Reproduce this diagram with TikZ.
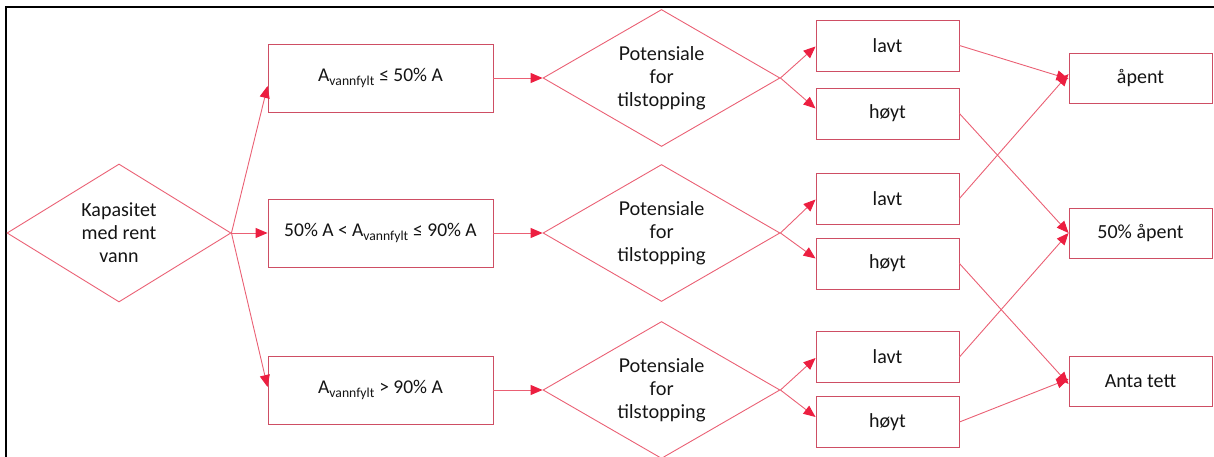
\documentclass[tikz,border=0pt]{standalone}
\usepackage{fontspec}
\setmainfont{Carlito}
\newfontfamily\potfont{Lato}
\usetikzlibrary{shapes.geometric,arrows.meta}
\definecolor{lin}{RGB}{234,96,116}
\definecolor{brd}{RGB}{206,78,100}
\definecolor{tipc}{RGB}{236,30,64}
\definecolor{txt}{RGB}{20,20,20}
\begin{document}
\begin{tikzpicture}[x=1pt,y=-1pt,
  box/.style={draw=brd,line width=0.9pt,minimum width=225pt,minimum height=68pt,inner sep=0pt,text=txt,font=\fontsize{19.5}{23}\selectfont},
  sbox/.style={draw=brd,line width=0.9pt,minimum width=143pt,minimum height=51pt,inner sep=0pt,text=txt,font=\fontsize{20}{24}\selectfont},
  dia/.style={diamond,aspect=1.73,draw=lin,line width=0.9pt,inner sep=0pt,minimum width=237pt,minimum height=137pt,text=txt,align=center,font=\potfont\fontsize{19}{23}\selectfont},
  conn/.style={draw=lin,line width=0.9pt,-{Triangle[length=12pt,width=10pt,color=tipc,fill=tipc]}},
  plain/.style={draw=lin,line width=0.9pt}]
\useasboundingbox (0,0) rectangle (1214,457);
\begin{scope}
\clip (0,0) rectangle (1214,457);
% frame
\draw[line width=2pt,black] (6,458) -- (6,7) -- (1214,7);
% start diamond
\node[dia,aspect=1.62,minimum width=224pt,minimum height=138pt,font=\fontsize{20}{23}\selectfont] (m) at (119,233) {Kapasitet\\med rent\\vann};
% first column boxes
\node[box] (b1) at (380.5,78) {A\textsubscript{vannfylt} ≤ 50\% A};
\node[box] (b2) at (380.5,233) {50\% A < A\textsubscript{vannfylt} ≤ 90\% A};
\node[box] (b3) at (380.5,390) {A\textsubscript{vannfylt} > 90\% A};
% decision diamonds
\node[dia] (d1) at (661.5,78) {Potensiale\\for\\tilstopping};
\node[dia] (d2) at (661.5,233) {Potensiale\\for\\tilstopping};
\node[dia] (d3) at (661.5,390) {Potensiale\\for\\tilstopping};
% lavt / hoyt
\node[sbox] (l1) at (887.5,45.5) {lavt};
\node[sbox] (h1) at (887.5,113.5) {høyt};
\node[sbox] (l2) at (887.5,198.5) {lavt};
\node[sbox] (h2) at (887.5,263.5) {høyt};
\node[sbox] (l3) at (887.5,357) {lavt};
\node[sbox] (h3) at (887.5,422) {høyt};
% outcomes
\node[sbox,minimum height=50pt] (o1) at (1140.5,78) {åpent};
\node[sbox,minimum height=50pt] (o2) at (1140.5,233) {50\% åpent};
\node[sbox,minimum height=50pt] (o3) at (1140.5,381) {Anta tett};
% connectors
\draw[conn] (m.east) -- ([yshift=-8pt]b1.west);
\draw[conn] (m.east) -- (b2.west);
\draw[conn] (m.east) -- ([yshift=3pt]b3.west);
\draw[conn] (b1.east) -- (d1.west);
\draw[conn] (b2.east) -- (d2.west);
\draw[conn] (b3.east) -- (d3.west);
\draw[conn] (d1.east) -- ([yshift=-1pt]l1.west);
\draw[conn] (d1.east) -- ([yshift=5pt]h1.west);
\draw[conn] (d2.east) -- ([yshift=-1pt]l2.west);
\draw[conn] (d2.east) -- ([yshift=5pt]h2.west);
\draw[conn] (d3.east) -- ([yshift=-1pt]l3.west);
\draw[conn] (d3.east) -- ([yshift=5pt]h3.west);
\draw[conn] (l1.east) -- ([yshift=-1pt]o1.west);
\draw[conn] (h1.east) -- (o2.west);
\draw[conn] (l2.east) -- ([yshift=4pt]o1.west);
\draw[conn] (h2.east) -- ([yshift=-3pt]o3.west);
\draw[conn] (l3.east) -- (o2.west);
\draw[conn] (h3.east) -- ([yshift=2pt]o3.west);
\end{scope}
\end{tikzpicture}
\end{document}
